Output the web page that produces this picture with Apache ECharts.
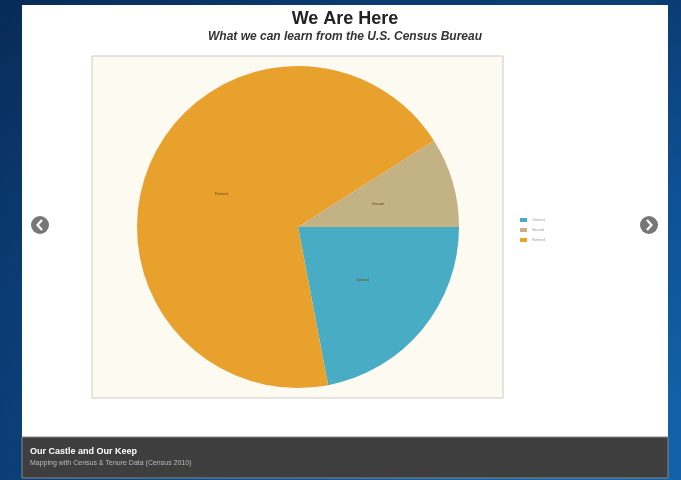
<!DOCTYPE html>
<html><head><meta charset="utf-8">
<script src="https://cdn.jsdelivr.net/npm/echarts@6/dist/echarts.min.js"></script>
<style>
html,body{margin:0;padding:0;width:681px;height:480px;overflow:hidden;}
body{background:radial-gradient(ellipse at 85% 95%, #1468b0 0%, #0d4f92 45%, #0a3466 85%, #082b58 100%);}
#c{width:681px;height:480px;}
</style></head><body>
<div id="c"></div>
<script>
const categories = ["Owned", "Vacant", "Rented"];
const legendOrder = ["Owned", "Vacant", "Rented"];
const values = [22, 9, 69];
const sliceOrder = ["Owned", "Rented", "Vacant"];
const colors = {"Owned":"#48adc4","Vacant":"#c3b283","Rented":"#e9a12d"};
const titleText = "We Are Here";
const subtitleText = "What we can learn from the U.S. Census Bureau";
const footerTitle = "Our Castle and Our Keep";
const footerSub = "Mapping with Census & Tenure Data (Census 2010)";

const data = sliceOrder.map(n => ({name:n, value: values[categories.indexOf(n)], itemStyle:{color:colors[n]}}));

const chart = echarts.init(document.getElementById('c'), null, {renderer:'canvas'});
chart.setOption({
  animation:false,
  title:{text:titleText, subtext:subtitleText, left:340, textAlign:'center', top:5,
    textStyle:{fontFamily:'Liberation Sans', fontSize:18, fontWeight:'bold', color:'#222'},
    subtextStyle:{fontFamily:'Liberation Sans', fontSize:12, fontWeight:'bold', fontStyle:'italic', color:'#333'}, itemGap:3},
  legend:{orient:'vertical', left:515, top:213, itemWidth:7, itemHeight:4, itemGap:6,
    data:legendOrder, textStyle:{fontSize:4, color:'#999', fontFamily:'Liberation Sans'}, icon:'rect'},
  graphic:[
    {type:'rect', z:-10, shape:{x:22,y:5,width:646,height:432}, style:{fill:'#ffffff'}},
    {type:'rect', z:-9, shape:{x:92,y:56,width:411,height:342}, style:{fill:'#fdfaf1', stroke:'#cfcbc4', lineWidth:1}},
    {type:'rect', z:-10, shape:{x:22,y:437,width:646,height:41}, style:{fill:'#3e3e3e', stroke:'#888', lineWidth:1}},
    {type:'text', z:5, left:30, top:447, style:{text:footerTitle, fill:'#ffffff', font:'bold 9px Liberation Sans'}},
    {type:'text', z:5, left:30, top:460, style:{text:footerSub, fill:'#bbbbbb', font:'7px Liberation Sans'}},
    {type:'circle', z:5, shape:{cx:40,cy:225,r:9}, style:{fill:'#777'}},
    {type:'polyline', z:6, shape:{points:[[42,220],[37.5,225],[42,230]]}, style:{stroke:'#fff', lineWidth:2.2, fill:null}},
    {type:'circle', z:5, shape:{cx:649,cy:225,r:9}, style:{fill:'#777'}},
    {type:'polyline', z:6, shape:{points:[[647,220],[651.5,225],[647,230]]}, style:{stroke:'#fff', lineWidth:2.2, fill:null}}
  ],
  series:[{type:'pie', center:[298,227], radius:161, startAngle:0, clockwise:true,
    label:{show:true, position:'inner', formatter:'{b}', fontSize:4, color:'#6a4a10'},
    labelLine:{show:false}, emphasis:{disabled:true},
    itemStyle:{borderWidth:0},
    data:data}]
});
</script>
</body></html>
